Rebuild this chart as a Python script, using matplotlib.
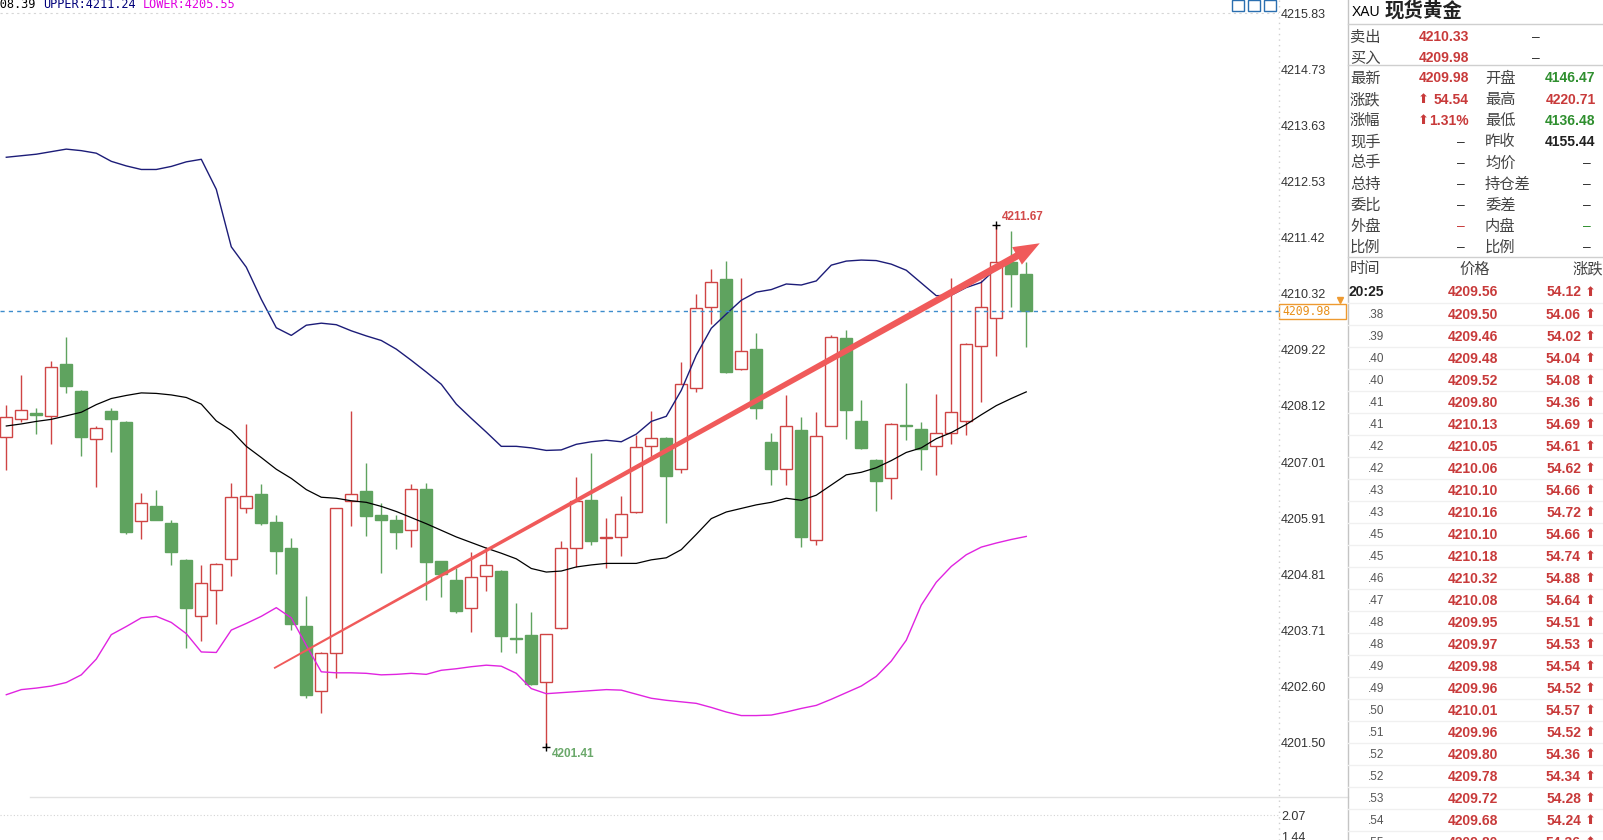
import numpy as np
import matplotlib
matplotlib.use("Agg")
import matplotlib.pyplot as plt
from matplotlib.patches import Rectangle, Polygon
from matplotlib.lines import Line2D
from matplotlib.transforms import IdentityTransform

W, H = 1603, 840
plt.rcParams["font.family"] = ["Liberation Sans", "DejaVu Sans"]
CJK = ["Noto Sans CJK SC", "DejaVu Sans"]
MONO = "DejaVu Sans Mono"

RED = "#cf4444"
GREEN = "#5fa35f"
TXT_RED = "#c83a3a"
TXT_GREEN = "#2f8f2f"
ARROW = "#f05a5a"
NAVY = "#1c1c78"
MAGENTA = "#e024e0"
ORANGE = "#ee9a30"

# ── K 线数据 (每根 1 分钟) ─────────────────────────────────────────────────────
opens = [4207.51, 4207.86, 4207.97, 4207.92, 4208.93, 4208.40, 4207.47, 4208.01, 4207.79, 4205.86,
         4206.14, 4205.82, 4205.08, 4203.98, 4204.49, 4205.10, 4206.10, 4206.39, 4205.83, 4205.32,
         4203.79, 4202.51, 4203.26, 4206.24, 4206.44, 4205.98, 4205.88, 4205.67, 4206.49, 4205.06,
         4204.69, 4204.15, 4204.78, 4204.87, 4203.55, 4203.61, 4202.69, 4203.76, 4205.33, 4206.26,
         4205.52, 4205.53, 4206.03, 4207.33, 4207.49, 4206.87, 4208.46, 4210.06, 4210.60, 4208.83,
         4209.24, 4207.40, 4206.88, 4207.64, 4205.48, 4207.72, 4209.44, 4207.81, 4207.06, 4206.69,
         4207.74, 4207.67, 4207.33, 4207.59, 4207.82, 4209.29, 4209.85, 4210.94, 4210.70]
highs = [4208.13, 4208.72, 4208.08, 4208.99, 4209.47, 4208.42, 4207.72, 4208.08, 4207.82, 4206.41,
         4206.47, 4205.88, 4205.10, 4204.99, 4205.02, 4206.59, 4207.76, 4206.58, 4205.97, 4205.52,
         4204.38, 4203.28, 4206.11, 4208.01, 4206.99, 4206.21, 4205.97, 4206.58, 4206.60, 4205.07,
         4204.92, 4205.25, 4205.34, 4204.89, 4204.24, 4204.07, 4203.64, 4205.46, 4206.71, 4207.19,
         4205.91, 4206.34, 4207.54, 4208.01, 4207.50, 4208.97, 4210.32, 4210.80, 4210.96, 4210.63,
         4209.54, 4207.59, 4208.32, 4207.89, 4207.99, 4209.50, 4209.60, 4208.23, 4207.08, 4207.77,
         4208.57, 4207.80, 4208.34, 4210.62, 4209.36, 4210.58, 4211.67, 4211.55, 4210.94]
lows = [4206.85, 4207.80, 4207.57, 4207.36, 4208.37, 4207.13, 4206.52, 4207.21, 4205.60, 4205.49,
        4205.87, 4204.99, 4203.35, 4203.50, 4203.83, 4204.77, 4206.01, 4205.78, 4204.81, 4203.71,
        4202.38, 4202.08, 4202.76, 4205.76, 4205.56, 4204.83, 4205.31, 4205.34, 4204.31, 4204.36,
        4204.05, 4203.67, 4204.48, 4203.28, 4203.25, 4202.63, 4201.41, 4203.74, 4204.95, 4205.38,
        4204.93, 4205.17, 4206.02, 4207.11, 4205.82, 4206.79, 4208.39, 4209.72, 4208.77, 4208.82,
        4207.85, 4206.56, 4206.56, 4205.34, 4205.38, 4207.71, 4207.47, 4207.27, 4206.05, 4206.28,
        4207.45, 4206.85, 4206.75, 4207.36, 4207.54, 4208.19, 4209.09, 4210.06, 4209.27]
closes = [4207.90, 4208.04, 4207.93, 4208.88, 4208.51, 4207.51, 4207.69, 4207.85, 4205.63, 4206.20,
          4205.88, 4205.25, 4204.15, 4204.63, 4205.00, 4206.33, 4206.35, 4205.82, 4205.27, 4203.83,
          4202.44, 4203.26, 4206.10, 4206.39, 4205.95, 4205.88, 4205.63, 4206.49, 4205.05, 4204.82,
          4204.09, 4204.76, 4204.98, 4203.60, 4203.53, 4202.65, 4203.63, 4205.33, 4206.24, 4205.46,
          4205.54, 4206.00, 4207.30, 4207.49, 4206.74, 4208.54, 4210.03, 4210.54, 4208.78, 4209.20,
          4208.08, 4206.87, 4207.72, 4205.53, 4207.53, 4209.46, 4208.04, 4207.28, 4206.64, 4207.75,
          4207.71, 4207.26, 4207.59, 4207.99, 4209.33, 4210.05, 4210.94, 4210.70, 4209.98]

# 布林带
upper = [4213.00, 4213.03, 4213.06, 4213.11, 4213.16, 4213.13, 4213.08, 4212.92, 4212.83, 4212.76,
         4212.76, 4212.82, 4212.91, 4212.96, 4212.37, 4211.24, 4210.84, 4210.21, 4209.65, 4209.50,
         4209.70, 4209.74, 4209.71, 4209.59, 4209.49, 4209.40, 4209.23, 4209.01, 4208.78, 4208.54,
         4208.15, 4207.87, 4207.60, 4207.32, 4207.32, 4207.29, 4207.24, 4207.25, 4207.36, 4207.41,
         4207.44, 4207.41, 4207.56, 4207.81, 4207.91, 4208.42, 4209.11, 4209.64, 4209.92, 4210.19,
         4210.35, 4210.40, 4210.51, 4210.49, 4210.57, 4210.88, 4210.96, 4210.98, 4210.97, 4210.90,
         4210.78, 4210.53, 4210.28, 4210.29, 4210.44, 4210.54, 4210.82, 4211.04, 4211.24]
mid = [4207.72, 4207.76, 4207.81, 4207.85, 4207.92, 4207.99, 4208.14, 4208.26, 4208.32, 4208.37,
       4208.36, 4208.33, 4208.28, 4208.15, 4207.82, 4207.63, 4207.32, 4207.10, 4206.87, 4206.69,
       4206.47, 4206.32, 4206.30, 4206.25, 4206.22, 4206.14, 4206.04, 4205.92, 4205.80, 4205.67,
       4205.54, 4205.43, 4205.32, 4205.22, 4205.11, 4204.92, 4204.85, 4204.87, 4204.95, 4204.99,
       4205.02, 4205.02, 4205.02, 4205.09, 4205.13, 4205.29, 4205.59, 4205.90, 4206.03, 4206.10,
       4206.17, 4206.22, 4206.30, 4206.26, 4206.36, 4206.56, 4206.76, 4206.81, 4206.90, 4207.04,
       4207.20, 4207.29, 4207.47, 4207.59, 4207.75, 4207.94, 4208.12, 4208.26, 4208.39]
lower = [4202.44, 4202.54, 4202.57, 4202.61, 4202.68, 4202.83, 4203.14, 4203.62, 4203.78, 4203.95,
         4203.98, 4203.86, 4203.64, 4203.28, 4203.27, 4203.71, 4203.84, 4203.98, 4204.15, 4203.95,
         4203.41, 4202.89, 4202.87, 4202.87, 4202.86, 4202.83, 4202.84, 4202.86, 4202.84, 4202.92,
         4202.95, 4202.99, 4203.02, 4203.00, 4202.86, 4202.56, 4202.46, 4202.48, 4202.50, 4202.52,
         4202.54, 4202.53, 4202.45, 4202.37, 4202.33, 4202.30, 4202.27, 4202.19, 4202.10, 4202.03,
         4202.03, 4202.04, 4202.10, 4202.17, 4202.23, 4202.35, 4202.48, 4202.61, 4202.80, 4203.10,
         4203.51, 4204.20, 4204.65, 4204.96, 4205.19, 4205.34, 4205.42, 4205.49, 4205.55]

y_ticks = [4215.83, 4214.73, 4213.63, 4212.53, 4211.42, 4210.32, 4209.22,
           4208.12, 4207.01, 4205.91, 4204.81, 4203.71, 4202.60, 4201.50]
sub_ticks = [2.07, 1.44]
last_price = 4209.98
trend_start = (17.85, 4202.96)
trend_end = (68.9, 4211.31)

# ── 报价面板 ──────────────────────────────────────────────────────────────────
bidask_labels = ["卖出", "买入"]
bidask_values = ["4210.33", "4209.98"]
left_labels = ["最新", "涨跌", "涨幅", "现手", "总手", "总持", "委比", "外盘", "比例"]
left_values = ["4209.98", "54.54", "1.31%", "–", "–", "–", "–", "–", "–"]
left_colors = [TXT_RED, TXT_RED, TXT_RED, "#333", "#333", "#333", "#333", TXT_RED, "#333"]
right_labels = ["开盘", "最高", "最低", "昨收", "均价", "持仓差", "委差", "内盘", "比例"]
right_values = ["4146.47", "4220.71", "4136.48", "4155.44", "–", "–", "–", "–", "–"]
right_colors = [TXT_GREEN, TXT_RED, TXT_GREEN, "#222", "#333", "#333", "#333", TXT_GREEN, "#333"]

tick_times = ["20:25", ".38", ".39", ".40", ".40", ".41", ".41", ".42", ".42", ".43", ".43",
              ".45", ".45", ".46", ".47", ".48", ".48", ".49", ".49", ".50", ".51", ".52",
              ".52", ".53", ".54", ".55"]
tick_prices = [4209.56, 4209.50, 4209.46, 4209.48, 4209.52, 4209.80, 4210.13, 4210.05, 4210.06,
               4210.10, 4210.16, 4210.10, 4210.18, 4210.32, 4210.08, 4209.95, 4209.97, 4209.98,
               4209.96, 4210.01, 4209.96, 4209.80, 4209.78, 4209.72, 4209.68, 4209.80]
tick_changes = [54.12, 54.06, 54.02, 54.04, 54.08, 54.36, 54.69, 54.61, 54.62, 54.66, 54.72,
                54.66, 54.74, 54.88, 54.64, 54.51, 54.53, 54.54, 54.52, 54.57, 54.52, 54.36,
                54.34, 54.28, 54.24, 54.36]


def fx(x):
    return x / W


def fy(y):
    return 1 - y / H


def ftext(x, y, s, **kw):
    kw.setdefault("va", "center")
    fig.text(fx(x), fy(y), s, **kw)


def fline(x0, x1, y0, y1, **kw):
    fig.add_artist(Line2D([fx(x0), fx(x1)], [fy(y0), fy(y1)],
                          transform=fig.transFigure, **kw))


fig = plt.figure(figsize=(W / 100, H / 100), dpi=100, facecolor="white")

# ── 主图 ──────────────────────────────────────────────────────────────────────
ax = fig.add_axes([0, 43 / H, 1279 / W, 797 / H])
ax.set_xlim(-0.42, 84.85)
ax.set_ylim(4200.43, 4216.09)
for s in ax.spines.values():
    s.set_visible(False)
ax.set_xticks([])
ax.yaxis.tick_right()
ax.set_yticks(y_ticks)
ax.set_yticklabels([f"{v:.2f}" for v in y_ticks])
ax.tick_params(axis="y", length=0, pad=1.5, labelsize=9, labelcolor="#333")

ax.axhline(y_ticks[0], color="#d6d6d6", lw=0.8, ls=(0, (2, 3)), zorder=0)

xs = np.arange(len(opens))
for i in xs:
    o, h, l, c = opens[i], highs[i], lows[i], closes[i]
    up = c >= o
    col = RED if up else GREEN
    ax.vlines(i, l, h, color=col, lw=1, zorder=2)
    bottom = min(o, c)
    height = max(abs(c - o), 0.02)
    ax.add_patch(Rectangle((i - 0.4, bottom), 0.8, height,
                           facecolor="white" if up else GREEN,
                           edgecolor=col, lw=1, zorder=3))

ax.plot(xs, upper, color=NAVY, lw=1, zorder=4)
ax.plot(xs, mid, color="black", lw=0.9, zorder=4)
ax.plot(xs, lower, color=MAGENTA, lw=1, zorder=4)

ax.axhline(last_price, color="#3d8ccc", lw=1, ls=(0, (3, 3)), zorder=5)

# 最高 / 最低标记
hi_i = int(np.argmax(highs))
lo_i = int(np.argmin(lows))
ax.plot(hi_i, highs[hi_i], marker="+", color="black", ms=6, mew=1, zorder=7)
ax.plot(lo_i, lows[lo_i], marker="+", color="black", ms=6, mew=1, zorder=7)
ax.annotate(f"{highs[hi_i]:.2f}", (hi_i, highs[hi_i]), xytext=(4, 6),
            textcoords="offset points", fontsize=8.5, fontweight="bold",
            color="#d24a4a", va="center", ha="left", zorder=8)
ax.annotate(f"{lows[lo_i]:.2f}", (lo_i, lows[lo_i]), xytext=(4, -5),
            textcoords="offset points", fontsize=8.5, fontweight="bold",
            color="#6aa86a", va="center", ha="left", zorder=8)

# 趋势箭头 (像素坐标里画一个渐宽的箭头)
s = ax.transData.transform(trend_start)
t = ax.transData.transform(trend_end)
d = t - s
u = d / np.hypot(*d)
n = np.array([-u[1], u[0]])
head_len, head_half = 26, 10
b = t - head_len * u
w0, w1 = 0.9, 3.6
pts = [s + n * w0, b + n * w1, b + n * head_half, t,
       b - n * head_half, b - n * w1, s - n * w0]
ax.add_patch(Polygon(pts, closed=True, transform=IdentityTransform(),
                     facecolor=ARROW, edgecolor="none", zorder=6))

# 现价标签
fig.add_artist(Rectangle((fx(1279), fy(319)), 67 / W, 15 / H, transform=fig.transFigure,
                         facecolor="white", edgecolor=ORANGE, lw=1))
ftext(1282, 311.5, f"{last_price:.2f}", family=MONO, size=8.3, color="#e8901a", ha="left")
fig.add_artist(Line2D([fx(1340)], [fy(300)], marker="v", ms=4, color=ORANGE,
                      transform=fig.transFigure))

# 顶部指标说明
ftext(-43, 5, f"MID:{mid[-1]:.2f}", family=MONO, size=8.6, color="black", ha="left")
ftext(43, 5, f"UPPER:{upper[-1]:.2f}", family=MONO, size=8.6, color="#00007a", ha="left")
ftext(143, 5, f"LOWER:{lower[-1]:.2f}", family=MONO, size=8.6, color="#e000e0", ha="left")

# 右上小按钮
for x0 in (1232, 1248, 1264):
    fig.add_artist(Rectangle((fx(x0), fy(11)), 12 / W, 11 / H, transform=fig.transFigure,
                             fill=False, edgecolor="#2a6fb0", lw=1))

# 纵轴与分隔线
fline(1279, 1279, 0, 840, color="#d0d0d0", lw=1, ls=(0, (1, 3)))
fline(30, 1348, 797, 797, color="#e2e2e2", lw=1)

# ── 副图 ──────────────────────────────────────────────────────────────────────
sub = fig.add_axes([0, 0, 1279 / W, 43 / H])
sub.set_xlim(0, 1)
sub.set_ylim(1.344, 2.593)
for sp in sub.spines.values():
    sp.set_visible(False)
sub.set_xticks([])
sub.yaxis.tick_right()
sub.set_yticks(sub_ticks)
sub.set_yticklabels([f"{v:.2f}" for v in sub_ticks])
sub.tick_params(axis="y", length=0, pad=1.5, labelsize=9, labelcolor="#333")
sub.axhline(sub_ticks[0], color="#d4d4d4", lw=0.8, ls=(0, (1, 2)))
sub.patch.set_alpha(0)

# ── 右侧报价面板 ──────────────────────────────────────────────────────────────
fline(1348, 1348, 0, 840, color="#c4c4c4", lw=1)
for yy in (24, 65, 257):
    fline(1348, 1603, yy, yy, color="#cfcfcf", lw=1)

ftext(1352, 12, "XAU", size=10, color="black", ha="left")
ftext(1385, 11, "现货黄金", family=CJK, size=14, fontweight="bold", color="#222", ha="left")

for k, (lab, val) in enumerate(zip(bidask_labels, bidask_values)):
    yy = 37 + 21.1 * k
    ftext(1350, yy, lab, family=CJK, size=11, color="#444", ha="left")
    ftext(1469, yy, val, size=10, fontweight="bold", color=TXT_RED, ha="right")
    ftext(1535.5, yy, "–", size=10, color="#333", ha="center")

for k in range(len(left_labels)):
    yy = 78.5 + 21.1 * k
    ftext(1350, yy, left_labels[k], family=CJK, size=11, color="#444", ha="left")
    ftext(1485, yy, right_labels[k], family=CJK, size=11, color="#444", ha="left")
    lv = left_values[k]
    if lv == "–":
        ftext(1461, yy, lv, size=10, color=left_colors[k], ha="center")
    else:
        ftext(1469, yy, lv, size=10, fontweight="bold", color=left_colors[k], ha="right")
        if k in (1, 2):
            ftext(1423, yy, "⬆", family=["DejaVu Sans"], size=9.5,
                  color=left_colors[k], ha="center")
    rv = right_values[k]
    if rv == "–":
        ftext(1587, yy, rv, size=10, color=right_colors[k], ha="center")
    else:
        ftext(1595.5, yy, rv, size=10, fontweight="bold", color=right_colors[k], ha="right")

# 分笔成交
ftext(1350, 269, "时间", family=CJK, size=11, color="#444", ha="left")
ftext(1475, 269, "价格", family=CJK, size=11, color="#444", ha="center")
ftext(1603, 269, "涨跌", family=CJK, size=11, color="#444", ha="right")

for k in range(len(tick_times)):
    yy = 292.5 + 22.02 * k
    if k == 0:
        ftext(1384, yy, tick_times[k], size=10, fontweight="bold", color="#222", ha="right")
    else:
        ftext(1384, yy, tick_times[k], size=8.5, color="#555", ha="right")
    ftext(1473, yy, f"{tick_prices[k]:.2f}", size=10, fontweight="bold",
          color=TXT_RED, ha="center")
    ftext(1581, yy, f"{tick_changes[k]:.2f}", size=10, fontweight="bold",
          color=TXT_RED, ha="right")
    ftext(1590, yy, "⬆", family=["DejaVu Sans"], size=9.5, color=TXT_RED, ha="center")
    fline(1348, 1603, yy + 10.5, yy + 10.5, color="#f0f0f0", lw=1)

fig.savefig("out.png", dpi=100)
